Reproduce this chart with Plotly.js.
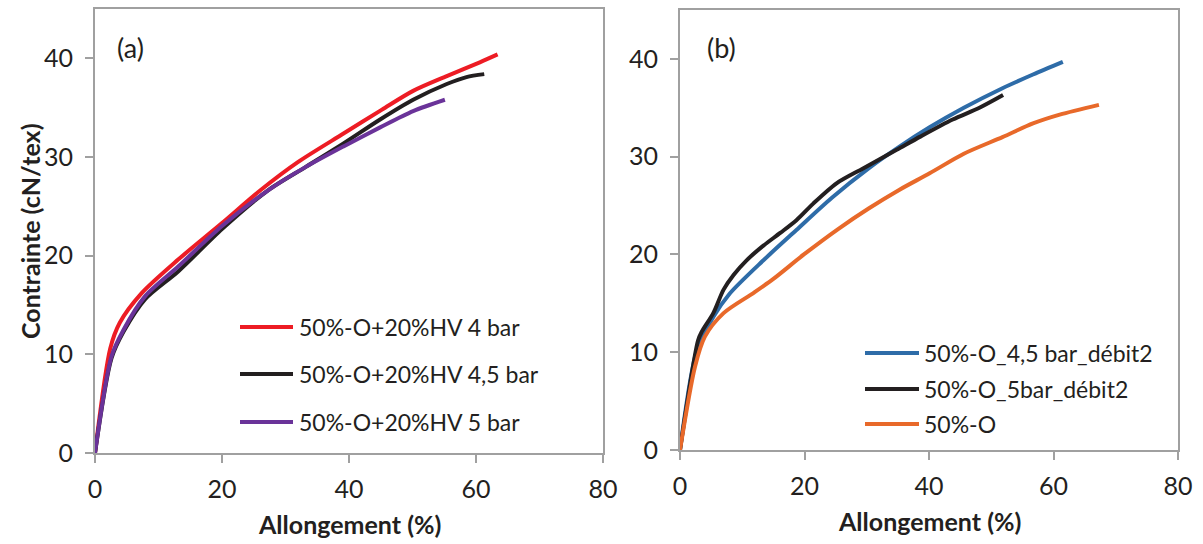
<!DOCTYPE html>
<html>
<head>
<meta charset="utf-8">
<script src="https://cdn.plot.ly/plotly-3.0.1.min.js"></script>
<style>html,body{margin:0;padding:0;background:#fff;}#chart{width:1203px;height:544px;}</style>
</head>
<body>
<div id="chart"></div>
<script>
// ---- Panel (a) data ----
const aNames = ["50%-O+20%HV 4 bar", "50%-O+20%HV 4,5 bar", "50%-O+20%HV 5 bar"];
const aColors = ["#ED1C24", "#231F20", "#6A3399"];
const aRedX = [0, 2.4, 3.9, 7.35, 13.1, 20, 26, 32, 39.2, 45.2, 50.1, 55.4, 60.6, 63.4];
const aRedY = [0, 10.6, 13.2, 16.2, 19.6, 23.3, 26.6, 29.5, 32.4, 34.8, 36.7, 38.2, 39.6, 40.4];
const aBlackX = [0, 2.6, 4.5, 7.9, 13.1, 20, 27.2, 33.2, 39.2, 44.9, 50.1, 55.4, 58.5, 61.3];
const aBlackY = [0, 9.6, 12.3, 15.6, 18.4, 22.7, 26.6, 29.0, 31.4, 33.8, 35.8, 37.4, 38.1, 38.4];
const aPurpleX = [0, 2.6, 4.5, 7.9, 13.1, 20, 27.2, 33.2, 39.2, 44.9, 50.1, 55.1];
const aPurpleY = [0, 9.8, 12.5, 15.9, 18.9, 23.0, 26.6, 29.0, 31.1, 33.0, 34.65, 35.8];

// ---- Panel (b) data ----
const bNames = ["50%-O_4,5 bar_débit2", "50%-O_5bar_débit2", "50%-O"];
const bColors = ["#2E6CA8", "#231F20", "#E8692A"];
const bBlueX = [0, 2.7, 5.35, 8, 13.4, 18.7, 24.4, 30.3, 35.2, 40.1, 45.6, 51.8, 56.7, 61.5];
const bBlueY = [0, 10.2, 13.6, 16.0, 19.4, 22.5, 25.8, 28.8, 31.0, 33.0, 35.0, 37.0, 38.4, 39.7];
const bBlackX = [0, 2.9, 3.5, 5.35, 7.0, 8.6, 10.7, 13.4, 16.1, 18.7, 21.4, 25.2, 29.4, 34.8, 38.6, 43.8, 48.1, 51.9];
const bBlackY = [0, 11.2, 12.1, 14.0, 16.4, 17.9, 19.4, 20.9, 22.2, 23.5, 25.2, 27.3, 28.8, 30.7, 32.05, 33.8, 35.0, 36.3];
const bOrangeX = [0, 2.4, 4.0, 7.0, 11.9, 15, 19.9, 25.4, 30.3, 35.2, 40.1, 45.6, 51.8, 56.7, 61, 67.3];
const bOrangeY = [0, 8.5, 11.6, 14.0, 16.1, 17.5, 20.0, 22.6, 24.7, 26.6, 28.3, 30.3, 32.0, 33.4, 34.3, 35.3];

// ---- Axis ticks / labels ----
const xTicks = [0, 20, 40, 60, 80];
const yTicks = [0, 10, 20, 30, 40];
const xTitle = "Allongement (%)";
const yTitle = "Contrainte (cN/tex)";
const panelLabels = ["(a)", "(b)"];

const W = 1203, H = 544;
const FONT = "Lato, Calibri, 'Open Sans', sans-serif";
const TXT = "#231F20";
const AX = "#A0A0A0";

function line(x, y, color, xa, ya, name) {
  return {x: x, y: y, type: "scatter", mode: "lines", name: name,
    xaxis: xa, yaxis: ya, showlegend: false, hoverinfo: "skip",
    line: {color: color, width: 4, shape: "spline", smoothing: 0.8}};
}

const traces = [
  line(aRedX, aRedY, aColors[0], "x", "y", aNames[0]),
  line(aBlackX, aBlackY, aColors[1], "x", "y", aNames[1]),
  line(aPurpleX, aPurpleY, aColors[2], "x", "y", aNames[2]),
  line(bBlueX, bBlueY, bColors[0], "x2", "y2", bNames[0]),
  line(bBlackX, bBlackY, bColors[1], "x2", "y2", bNames[1]),
  line(bOrangeX, bOrangeY, bColors[2], "x2", "y2", bNames[2])
];

function axisX(domain, anchor) {
  return {domain: domain, anchor: anchor, range: [0, 80], tickvals: xTicks, ticktext: xTicks.map(String),
    showgrid: false, zeroline: false, showline: true, mirror: true, linecolor: AX, linewidth: 2,
    ticks: "outside", ticklen: 8, tickwidth: 2, tickcolor: AX, ticklabelstandoff: 5,
    tickfont: {family: FONT, size: 25, color: TXT}, automargin: false, fixedrange: true};
}
function axisY(domain, anchor) {
  return {domain: domain, anchor: anchor, range: [0, 45], tickvals: yTicks, ticktext: yTicks.map(String),
    showgrid: false, zeroline: false, showline: true, mirror: true, linecolor: AX, linewidth: 2,
    ticks: "outside", ticklen: 8, tickwidth: 2, tickcolor: AX, ticklabelstandoff: 7,
    tickfont: {family: FONT, size: 25, color: TXT}, automargin: false, fixedrange: true};
}

const px = v => v / W;
const py = v => 1 - v / H;

const annotations = [
  {text: panelLabels[0], xref: "paper", yref: "paper", x: px(115), y: py(47), xanchor: "left", yanchor: "middle", showarrow: false, font: {family: FONT, size: 27, color: TXT}},
  {text: panelLabels[1], xref: "paper", yref: "paper", x: px(705), y: py(47), xanchor: "left", yanchor: "middle", showarrow: false, font: {family: FONT, size: 27, color: TXT}},
  {text: "<b>" + xTitle + "</b>", xref: "paper", yref: "paper", x: px(349), y: py(524), xanchor: "center", yanchor: "middle", showarrow: false, font: {family: FONT, size: 25, color: TXT}},
  {text: "<b>" + xTitle + "</b>", xref: "paper", yref: "paper", x: px(929), y: py(521), xanchor: "center", yanchor: "middle", showarrow: false, font: {family: FONT, size: 25, color: TXT}},
  {text: "<b>" + yTitle + "</b>", xref: "paper", yref: "paper", x: px(30), y: py(231), xanchor: "center", yanchor: "middle", textangle: -90, showarrow: false, font: {family: FONT, size: 25, color: TXT}}
];
const shapes = [];

// custom legends
const legA = {x0: 240, x1: 293, tx: 297, ys: [327, 374, 422]};
const legB = {x0: 865, x1: 919, tx: 922, ys: [353, 389, 424]};
[[aNames, aColors, legA], [bNames, bColors, legB]].forEach(([names, colors, L]) => {
  names.forEach((n, i) => {
    shapes.push({type: "line", xref: "paper", yref: "paper", x0: px(L.x0), x1: px(L.x1), y0: py(L.ys[i]), y1: py(L.ys[i]),
      line: {color: colors[i], width: 4}});
    annotations.push({text: n, xref: "paper", yref: "paper", x: px(L.tx), y: py(L.ys[i]), xanchor: "left", yanchor: "middle",
      showarrow: false, font: {family: FONT, size: 23, color: TXT}});
  });
});

const layout = {
  width: W, height: H, margin: {l: 0, r: 0, t: 0, b: 0},
  paper_bgcolor: "#ffffff", plot_bgcolor: "#ffffff", showlegend: false,
  xaxis: axisX([px(95), px(603)], "y"),
  yaxis: axisY([1 - 453 / H, 1 - 9 / H], "x"),
  xaxis2: axisX([px(680), px(1178)], "y2"),
  yaxis2: axisY([1 - 450 / H, 1 - 10 / H], "x2"),
  annotations: annotations, shapes: shapes
};

Plotly.newPlot("chart", traces, layout, {displayModeBar: false, staticPlot: true});
</script>
</body>
</html>
